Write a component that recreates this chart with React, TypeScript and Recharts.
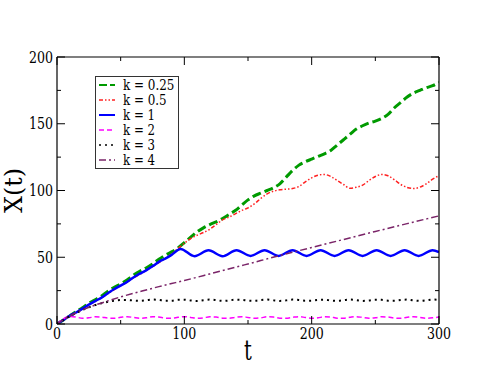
import React from 'react';
import { LineChart, Line, XAxis, YAxis, Legend } from 'recharts';

const FONT = "'DejaVu Serif Condensed', 'DejaVu Serif', serif";

const T5 = [0, 5, 10, 15, 20, 25, 30, 35, 40, 45, 50, 55, 60, 65, 70, 75, 80, 85, 90, 95, 100, 105, 110, 115, 120, 125, 130, 135, 140, 145, 150, 155, 160, 165, 170, 175, 180, 185, 190, 195, 200, 205, 210, 215, 220, 225, 230, 235, 240, 245, 250, 255, 260, 265, 270, 275, 280, 285, 290, 295, 300];

const k025 = [0, 3, 6, 9.2, 12.2, 15.5, 18.2, 21, 24.5, 27.5, 30, 33, 36.5, 39.5, 42, 45, 48.5, 51.5, 54, 57, 61, 65, 69, 72, 74.5, 76.5, 79, 82, 85, 89, 93, 96, 98, 100, 102, 105, 110, 115, 119, 121.5, 123.5, 125.5, 127.5, 130, 134, 138, 142, 146, 148.5, 150.5, 152, 154, 157, 162, 166, 170, 173, 175, 177, 178.5, 181];

const k05 = [0, 2.8, 5.8, 8.6, 11.4, 14.3, 17, 19.8, 22.8, 25.8, 28.6, 31.4, 34.4, 37.3, 40, 43, 46, 49, 52.5, 56.5, 60.5, 64, 66.5, 68.5, 71, 74.5, 78, 80, 82.5, 85, 87, 90, 94, 97.5, 99.5, 100.5, 101, 101.5, 103, 106.5, 109.5, 111.5, 112, 110.5, 107.5, 104.5, 101.6, 102.4, 104, 107.5, 110.5, 112, 111, 108, 104.5, 102.3, 101.5, 102.5, 105, 108.5, 111];

const tK1 = [0, 5, 10, 15, 20, 25, 30, 35, 40, 45, 50, 55, 60, 65, 70, 75, 80, 85, 90, 97, 108, 119, 130, 141, 152, 163, 174, 185, 196, 207, 218, 229, 240, 251, 262, 273, 284, 295, 300];
const k1 = [0, 3, 6.2, 8.6, 11.5, 14.5, 17.2, 19.8, 23, 26.2, 28.8, 31.5, 34.8, 37.7, 40.2, 43.2, 46.5, 49, 51.8, 56.2, 50.8, 55.2, 50.8, 55.3, 51, 55.3, 51, 55.3, 51, 55.3, 51, 55.3, 51, 55.3, 51, 55.3, 51, 55.3, 53.8];

const k2 = [0, 3.8, 5.6, 5.2, 4.3, 4.6, 5.4, 5.2, 4.4, 4.3, 5.0, 5.5, 4.9, 4.3, 4.6, 5.4, 5.2, 4.4, 4.3, 5.0, 5.5, 4.9, 4.3, 4.6, 5.4, 5.2, 4.4, 4.3, 5.0, 5.5, 4.9, 4.3, 4.6, 5.4, 5.2, 4.4, 4.3, 5.0, 5.5, 4.9, 4.3, 4.6, 5.4, 5.2, 4.4, 4.3, 5.0, 5.5, 4.9, 4.3, 4.6, 5.4, 5.2, 4.4, 4.3, 5.0, 5.5, 4.9, 4.3, 4.6, 5.2];

const k3 = [0, 3, 5.8, 8.3, 10.5, 12.5, 14.2, 15.5, 16.6, 17.4, 18, 18, 17.6, 17.4, 17.8, 18.3, 18, 17.4, 17.5, 18.1, 18.2, 17.6, 17.3, 17.8, 18.3, 17.9, 17.3, 17.6, 18.2, 18.1, 17.5, 17.4, 18, 18.3, 17.7, 17.3, 17.7, 18.3, 18, 17.4, 17.5, 18.1, 18.2, 17.6, 17.3, 17.8, 18.3, 17.9, 17.3, 17.6, 18.2, 18.1, 17.5, 17.4, 18, 18.3, 17.7, 17.3, 17.7, 18.3, 18];

const tK4 = [0, 5, 10, 15, 20, 30, 40, 50, 60, 70, 80, 90, 100, 120, 140, 160, 175, 200, 225, 250, 275, 300];
const k4 = [0, 3.2, 6, 8.5, 10.6, 14.2, 17.3, 20.3, 23, 25.5, 28, 30.3, 32.6, 37.5, 42.5, 47.5, 51.3, 57.3, 63.3, 69.3, 75.2, 81];

const X_TICKS = [0, 50, 100, 150, 200, 250, 300];
const Y_TICKS = [0, 25, 50, 75, 100, 125, 150, 175, 200];

const zip = (ts: number[], xs: number[]) => ts.map((t, i) => ({ t, x: xs[i] }));

const SERIES = [
  { name: 'k = 0.25', data: zip(T5, k025), color: '#009a00', width: 3, dash: '9 4' as string | undefined },
  { name: 'k = 0.5', data: zip(T5, k05), color: '#ff2020', width: 1.5, dash: '4 2 1.5 2 1.5 2' as string | undefined },
  { name: 'k = 1', data: zip(tK1, k1), color: '#0000ff', width: 2.5, dash: undefined as string | undefined },
  { name: 'k = 2', data: zip(T5, k2), color: '#ff00ff', width: 1.5, dash: '5 3' as string | undefined },
  { name: 'k = 3', data: zip(T5, k3), color: '#000000', width: 2, dash: '2 4' as string | undefined },
  { name: 'k = 4', data: zip(tK4, k4), color: '#7a2468', width: 1.5, dash: '7 3 2 3' as string | undefined },
];

// Times-like advance widths (em) so the wide fallback serif is fitted to the reference's text widths
const EM: Record<string, number> = { k: 0.5, ' ': 0.25, '=': 0.564, '.': 0.25, X: 0.722, '(': 0.333, ')': 0.333, t: 0.278 };
const tw = (s: string, size: number) => s.split('').reduce((a, c) => a + (EM[c] ?? 0.5), 0) * size;

const TXT = { fontFamily: FONT, fill: '#000' } as const;

const Txt = (p: { x: number; y: number; size: number; fit?: number; anchor?: string; children: string; transform?: string; baseline?: string }) => (
  <text
    x={p.x}
    y={p.y}
    textAnchor={p.anchor || 'start'}
    dominantBaseline={p.baseline as any}
    transform={p.transform}
    textLength={tw(p.children, p.fit || p.size)}
    lengthAdjust="spacingAndGlyphs"
    style={{ ...TXT, fontSize: p.size }}
  >
    {p.children}
  </text>
);

const BottomTick = (p: any) => {
  const { x, y, payload } = p;
  const v = payload.value;
  const major = v % 100 === 0;
  return (
    <g>
      <line x1={x} x2={x} y1={y} y2={y - (major ? 8 : 4)} stroke="#000" strokeWidth={1} />
      {major && <Txt x={x} y={y + 15} size={16} anchor="middle">{String(v)}</Txt>}
    </g>
  );
};
const TopTick = (p: any) => {
  const { x, y, payload } = p;
  const major = payload.value % 100 === 0;
  return <line x1={x} x2={x} y1={y} y2={y + (major ? 8 : 4)} stroke="#000" strokeWidth={1} />;
};
const LeftTick = (p: any) => {
  const { x, y, payload } = p;
  const v = payload.value;
  const major = v % 50 === 0;
  return (
    <g>
      <line x1={x} x2={x + (major ? 8 : 4)} y1={y} y2={y} stroke="#000" strokeWidth={1} />
      {major && <Txt x={x - 4} y={y + 5.5} size={16} anchor="end">{String(v)}</Txt>}
    </g>
  );
};
const RightTick = (p: any) => {
  const { x, y, payload } = p;
  const major = payload.value % 50 === 0;
  return <line x1={x} x2={x - (major ? 8 : 4)} y1={y} y2={y} stroke="#000" strokeWidth={1} />;
};

const YTitle = (p: any) => {
  const { x, y, width, height } = p.viewBox;
  const cx = x + width - 43;
  const cy = y + height / 2;
  return (
    <Txt x={cx} y={cy} size={24} fit={27} anchor="middle" baseline="central" transform={`rotate(-90 ${cx} ${cy})`}>X(t)</Txt>
  );
};
const XTitle = (p: any) => {
  const { x, y, width } = p.viewBox;
  return <Txt x={x + width / 2} y={y + 36} size={28} anchor="middle">t</Txt>;
};

const LegendBox = (p: any) => {
  const payload = p.payload || [];
  return (
    <div style={{ width: 84, height: 93, border: '1px solid #333', background: '#fff', boxSizing: 'border-box' }}>
      <svg width={82} height={91} style={{ display: 'block', overflow: 'visible' }}>
        {payload.map((e: any, i: number) => {
          const s = SERIES.find((q) => q.name === e.value) || SERIES[i];
          const cy = 8 + 15 * i;
          return (
            <g key={i}>
              <line x1={3} x2={19} y1={cy} y2={cy} stroke={s.color} strokeWidth={s.width > 2 ? 2 : 1.5} strokeDasharray={s.dash ? (s.name === 'k = 0.25' ? '8 3' : s.dash) : undefined} />
              <Txt x={27} y={cy + 5} size={14.5} fit={15.5}>{s.name}</Txt>
            </g>
          );
        })}
      </svg>
    </div>
  );
};

export default function App() {
  return (
    <div style={{ position: 'absolute', left: 0, top: 0, background: '#fff' }}>
      <LineChart width={494} height={382} margin={{ top: 56, right: 54, bottom: 57, left: 56 }}>
        <XAxis
          dataKey="t"
          type="number"
          domain={[0, 300]}
          ticks={X_TICKS}
          interval={0}
          height={1}
          tickSize={0}
          tickMargin={0}
          tickLine={false}
          tick={<BottomTick />}
          axisLine={{ stroke: '#000', strokeWidth: 1.2 }}
          allowDataOverflow
          label={<XTitle />}
        />
        <XAxis
          xAxisId="top"
          orientation="top"
          dataKey="t"
          type="number"
          domain={[0, 300]}
          ticks={X_TICKS}
          interval={0}
          height={1}
          tickSize={0}
          tickMargin={0}
          tickLine={false}
          tick={<TopTick />}
          axisLine={{ stroke: '#000', strokeWidth: 1.2 }}
          allowDataOverflow
        />
        <YAxis
          type="number"
          domain={[0, 200]}
          ticks={Y_TICKS}
          interval={0}
          width={1}
          tickSize={0}
          tickMargin={0}
          tickLine={false}
          tick={<LeftTick />}
          axisLine={{ stroke: '#000', strokeWidth: 1.2 }}
          allowDataOverflow
          label={<YTitle />}
        />
        <YAxis
          yAxisId="right"
          orientation="right"
          type="number"
          domain={[0, 200]}
          ticks={Y_TICKS}
          interval={0}
          width={1}
          tickSize={0}
          tickMargin={0}
          tickLine={false}
          tick={<RightTick />}
          axisLine={{ stroke: '#000', strokeWidth: 1.2 }}
          allowDataOverflow
        />
        {SERIES.map((s) => (
          <Line
            key={s.name}
            data={s.data}
            dataKey="x"
            name={s.name}
            type="monotone"
            stroke={s.color}
            strokeWidth={s.width}
            strokeDasharray={s.dash}
            dot={false}
            activeDot={false}
            isAnimationActive={false}
          />
        ))}
        <Legend
          layout="vertical"
          align="center"
          verticalAlign="middle"
          content={<LegendBox />}
          wrapperStyle={{ left: 95, top: 76, width: 84, height: 93 }}
        />
      </LineChart>
    </div>
  );
}
